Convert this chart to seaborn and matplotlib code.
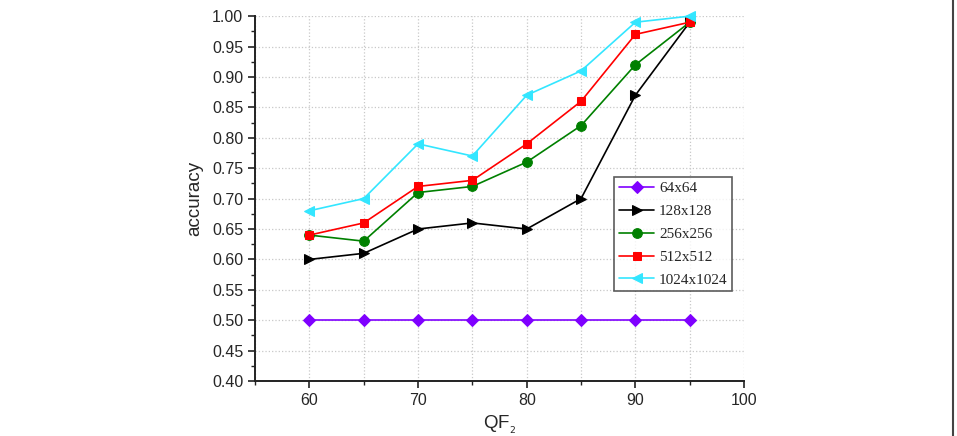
import numpy as np
import pandas as pd
import matplotlib.pyplot as plt
import seaborn as sns
from matplotlib.lines import Line2D
from matplotlib.ticker import MultipleLocator

qf = [60, 65, 70, 75, 80, 85, 90, 95]
acc_64 = [0.50, 0.50, 0.50, 0.50, 0.50, 0.50, 0.50, 0.50]
acc_128 = [0.60, 0.61, 0.65, 0.66, 0.65, 0.70, 0.87, 0.99]
acc_256 = [0.64, 0.63, 0.71, 0.72, 0.76, 0.82, 0.92, 0.99]
acc_512 = [0.64, 0.66, 0.72, 0.73, 0.79, 0.86, 0.97, 0.99]
acc_1024 = [0.68, 0.70, 0.79, 0.77, 0.87, 0.91, 0.99, 1.00]
sizes = ['64x64', '128x128', '256x256', '512x512', '1024x1024']

df = pd.DataFrame({
    'QF': qf * 5,
    'accuracy': acc_64 + acc_128 + acc_256 + acc_512 + acc_1024,
    'size': [s for s in sizes for _ in qf],
})

sns.set_style('ticks')
plt.rcParams['font.family'] = ['Liberation Sans', 'DejaVu Sans']

fig = plt.figure(figsize=(9.57, 4.36), dpi=100)
ax = fig.add_axes([0.2665, 0.126, 0.511, 0.837])

colors = ['#7f00ff', 'black', 'green', 'red', '#33e6ff']
markers = ['D', '>', 'o', 's', '<']
msize = [6, 7, 7, 6, 7]
for s, c, m, ms in zip(sizes, colors, markers, msize):
    sns.lineplot(data=df[df['size'] == s], x='QF', y='accuracy', color=c,
                 marker=m, markersize=ms, markeredgecolor=c, linewidth=1.2,
                 label=s, ax=ax, clip_on=False, zorder=3)

ax.set_xlim(55, 100)
ax.set_ylim(0.40, 1.00)
ax.xaxis.set_major_locator(MultipleLocator(10))
ax.xaxis.set_minor_locator(MultipleLocator(5))
ax.yaxis.set_major_locator(MultipleLocator(0.05))
ax.yaxis.set_minor_locator(MultipleLocator(0.025))
ax.set_yticklabels([f'{v:.2f}' for v in ax.get_yticks()])
ax.tick_params(which='major', length=5, width=1.2, labelsize=11.5, color='#222222')
ax.tick_params(which='minor', length=3, width=1.0, color='#222222')
ax.grid(True, which='both', axis='x', linestyle=':', color='#c8c8c8', linewidth=0.9)
ax.grid(True, which='major', axis='y', linestyle=':', color='#c8c8c8', linewidth=0.9)
sns.despine(ax=ax)
for sp in ['left', 'bottom']:
    ax.spines[sp].set_linewidth(1.4)
    ax.spines[sp].set_color('#222222')

ax.set_xlabel('QF$_{_2}$', fontsize=13.5, labelpad=4)
ax.set_ylabel('accuracy', fontsize=13.5, labelpad=6)

leg = ax.legend(loc='upper left', bbox_to_anchor=(0.734, 0.559), frameon=True,
                fancybox=False, edgecolor='#333333', handlelength=2.35,
                handletextpad=0.3, borderpad=0.3, borderaxespad=0.0,
                labelspacing=0.6, prop={'family': 'Liberation Serif', 'size': 11})
leg.get_frame().set_linewidth(1.2)

fig.add_artist(Line2D([0.9958, 0.9958], [0, 1], color='#444444', linewidth=1.5,
                      transform=fig.transFigure))

fig.savefig('out.png', dpi=100)
